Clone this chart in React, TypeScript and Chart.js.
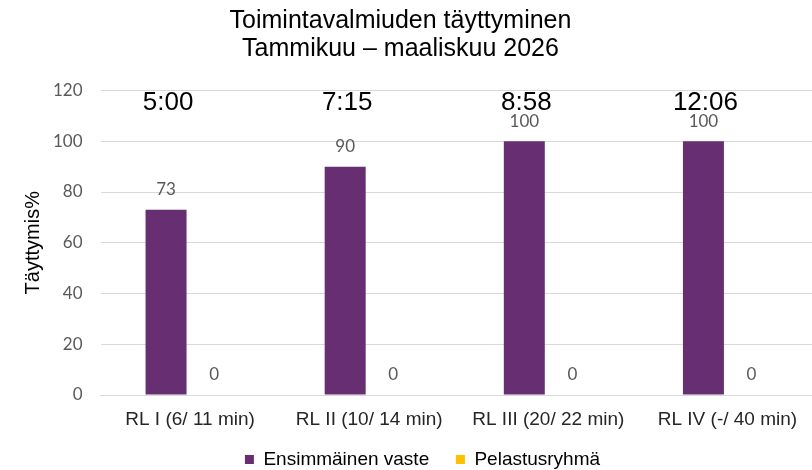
import React, { useEffect, useRef } from "react";
import { Chart, registerables } from "chart.js";

Chart.register(...registerables);

const categories = ["RL I (6/ 11 min)", "RL II (10/ 14 min)", "RL III (20/ 22 min)", "RL IV (-/ 40 min)"];
const ensimmainenVaste = [73, 90, 100, 100];
const pelastusryhma = [0, 0, 0, 0];
const timeLabels = ["5:00", "7:15", "8:58", "12:06"];
const yTicks = [0, 20, 40, 60, 80, 100, 120];
const titleLines = ["Toimintavalmiuden täyttyminen", "Tammikuu – maaliskuu 2026"];

const SANS = '"Liberation Sans", Arial, sans-serif';
const GRAYFONT = 'Lato, "Open Sans", sans-serif';

const labelPlugin = {
  id: "valueLabels",
  afterLayout(chart: any) {
    if (chart.legend) {
      chart.legend.left += 14;
      chart.legend.right += 14;
    }
    if (chart.titleBlock) {
      chart.titleBlock.left -= 8;
      chart.titleBlock.right -= 8;
    }
    if (chart.scales && chart.scales.x) {
      chart.scales.x.bottom = chart.height;
    }
  },
  afterDatasetsDraw(chart: any) {
    const ctx = chart.ctx;
    ctx.save();
    ctx.textAlign = "center";
    ctx.textBaseline = "middle";
    ctx.fillStyle = "#595959";
    ctx.font = `17px ${GRAYFONT}`;
    chart.data.datasets.forEach((ds: any, di: number) => {
      const meta = chart.getDatasetMeta(di);
      meta.data.forEach((el: any, i: number) => {
        ctx.fillText(String(ds.data[i]), el.x, el.y - 20);
      });
    });
    const yScale = chart.scales.y;
    const meta0 = chart.getDatasetMeta(0);
    ctx.fillStyle = "#000000";
    ctx.font = `26px ${SANS}`;
    meta0.data.forEach((el: any, i: number) => {
      ctx.fillText(timeLabels[i], el.x + 2, yScale.getPixelForValue(115));
    });
    ctx.restore();
  },
};

export default function App() {
  const ref = useRef<HTMLCanvasElement | null>(null);
  useEffect(() => {
    if (!ref.current) return;
    const chart = new Chart(ref.current, {
      type: "bar",
      data: {
        labels: categories,
        datasets: [
          {
            label: "Ensimmäinen vaste",
            data: ensimmainenVaste,
            backgroundColor: "#672F72",
            categoryPercentage: 0.536,
            barPercentage: 0.854,
          },
          {
            label: "Pelastusryhmä",
            data: pelastusryhma,
            backgroundColor: "#FFC000",
            categoryPercentage: 0.536,
            barPercentage: 0.854,
          },
        ],
      },
      options: {
        responsive: false,
        animation: false,
        layout: { padding: { left: 0, right: 0, top: 0, bottom: -9 } },
        plugins: {
          title: {
            display: true,
            text: titleLines,
            color: "#000000",
            font: { family: SANS, size: 25, weight: "normal", lineHeight: 28 / 25 },
            padding: { top: 7.5, bottom: 27 },
          },
          legend: {
            position: "bottom",
            labels: {
              boxWidth: 9,
              boxHeight: 9,
              padding: 26.7,
              color: "#000000",
              font: { family: SANS, size: 19 },
            },
          },
          tooltip: { enabled: false },
        },
        scales: {
          x: {
            grid: { display: false, drawTicks: false },
            border: { display: true, color: "#D9D9D9", width: 1 },
            ticks: { color: "#262626", padding: 13, font: { family: SANS, size: 19 } },
            afterFit: (s: any) => {
              s.height = 28.3;
            },
          },
          y: {
            min: 0,
            max: 120,
            afterBuildTicks: (s: any) => {
              s.ticks = yTicks.map((v) => ({ value: v }));
            },
            grid: { color: "#D9D9D9", drawTicks: false },
            border: { display: false },
            ticks: { color: "#595959", padding: 18, font: { family: GRAYFONT, size: 17 } },
            title: {
              display: true,
              text: "Täyttymis%",
              color: "#000000",
              font: { family: SANS, size: 20, lineHeight: 1.2 },
              padding: { top: 21.5, bottom: 0 },
            },
            afterFit: (s: any) => {
              s.width = 100.5;
            },
          },
        },
      },
      plugins: [labelPlugin],
    });
    return () => chart.destroy();
  }, []);
  return (
    <div style={{ position: "fixed", left: 0, top: 0, width: 817, height: 470, background: "#fff" }}>
      <canvas ref={ref} width={817} height={470} />
    </div>
  );
}
